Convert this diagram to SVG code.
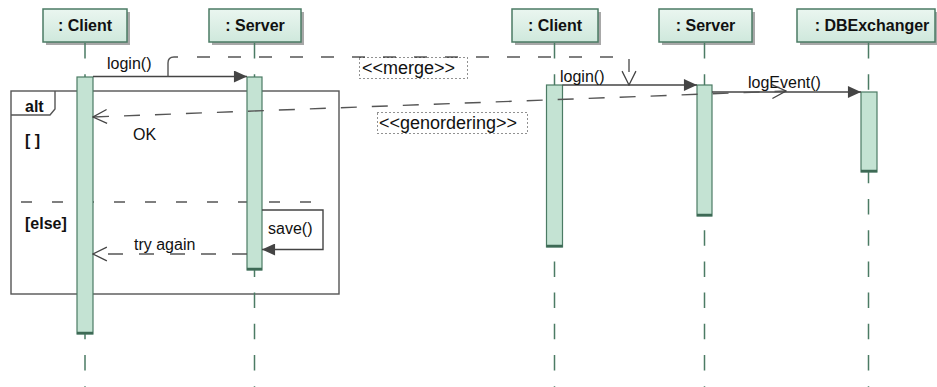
<svg xmlns="http://www.w3.org/2000/svg" width="937" height="387" viewBox="0 0 937 387">
  <defs>
    <linearGradient id="headFill" x1="0" y1="0" x2="0" y2="1">
      <stop offset="0" stop-color="#eaf6f0"/>
      <stop offset="1" stop-color="#cfe8dc"/>
    </linearGradient>
    <marker id="filled" markerUnits="userSpaceOnUse" markerWidth="14" markerHeight="12" viewBox="0 0 12 11" refX="12" refY="5.5" orient="auto">
      <path d="M0,0 L12,5.5 L0,11 z" fill="#444"/>
    </marker>
    <marker id="open" markerUnits="userSpaceOnUse" markerWidth="16" markerHeight="16" viewBox="-1 -1 15 15" refX="13" refY="6.5" orient="auto">
      <path d="M0,0 L13,6.5 L0,13" fill="none" stroke="#444" stroke-width="1.2"/>
    </marker>
    <marker id="openStart" markerUnits="userSpaceOnUse" markerWidth="16" markerHeight="16" viewBox="-1 -1 15 15" refX="0" refY="6.5" orient="auto">
      <path d="M13,0 L0,6.5 L13,13" fill="none" stroke="#444" stroke-width="1.2"/>
    </marker>
  </defs>
  <style>
    .head { fill: url(#headFill); stroke: #4b7b64; stroke-width: 1.5; }
    .shadow { fill: #a8a8a8; }
    .name { font-family: "Liberation Sans", Arial, sans-serif; font-size: 16px; font-weight: bold; fill: #111; text-anchor: middle; }
    .life { stroke: #4b7b64; stroke-width: 1.5; stroke-dasharray: 15.5 15.7; fill: none; }
    .act { fill: #c4e3d3; stroke: #4b7b64; stroke-width: 1.2; }
    .actEnd { stroke: #3d6a55; stroke-width: 2.5; }
    .lbl { font-family: "Liberation Sans", Arial, sans-serif; font-size: 16px; fill: #111; }
    .guard { font-family: "Liberation Sans", Arial, sans-serif; font-size: 16px; font-weight: bold; fill: #111; }
    .stereo { font-family: "Liberation Sans", Arial, sans-serif; font-size: 18px; fill: #111; }
    .call { stroke: #444; stroke-width: 1.4; fill: none; }
    .reply { stroke: #555; stroke-width: 1.4; fill: none; stroke-dasharray: 15 16; }
    .link { stroke: #555; stroke-width: 1.4; fill: none; }
    .frame { fill: none; stroke: #555; stroke-width: 1.4; }
    .note { fill: none; stroke: #222; stroke-width: 1; stroke-dasharray: 1 3; }
  </style>

  <rect width="937" height="387" fill="#fff"/>

  <!-- combined fragment (alt) -->
  <g id="alt-fragment">
    <rect class="frame" x="11" y="91" width="328" height="203"/>
    <path class="frame" d="M11,115 L50,115 L55,109 L55,91"/>
    <text class="guard" x="25" y="112">alt</text>
    <text class="guard" x="25" y="146">[ ]</text>
    <line class="frame" x1="21" y1="202" x2="318" y2="202" stroke-dasharray="11 20"/>
    <text class="guard" x="25" y="229">[else]</text>
  </g>

  <!-- first interaction: Client / Server -->
  <g id="client-a">
    <rect class="shadow" x="46" y="12" width="84" height="33"/>
    <rect class="head" x="43" y="9" width="84" height="33"/>
    <text class="name" x="85" y="30.5">: Client</text>
    <line class="life" x1="85" y1="43" x2="85" y2="387"/>
    <rect class="act" x="77" y="77" width="16" height="257"/>
    <line class="actEnd" x1="77" y1="333" x2="93" y2="333"/>
  </g>
  <g id="server-a">
    <rect class="shadow" x="212" y="12" width="92" height="33"/>
    <rect class="head" x="209" y="9" width="92" height="33"/>
    <text class="name" x="255" y="30.5">: Server</text>
    <line class="life" x1="254.5" y1="43" x2="254.5" y2="387"/>
    <rect class="act" x="247" y="77" width="15" height="193"/>
    <line class="actEnd" x1="247" y1="269" x2="262" y2="269"/>
  </g>

  <!-- second interaction: Client / Server / DBExchanger -->
  <g id="client-b">
    <rect class="shadow" x="515" y="12" width="86" height="33"/>
    <rect class="head" x="512" y="9" width="86" height="33"/>
    <text class="name" x="555" y="30.5">: Client</text>
    <line class="life" x1="554.5" y1="43" x2="554.5" y2="387"/>
    <rect class="act" x="546.5" y="85" width="16" height="162"/>
    <line class="actEnd" x1="546.5" y1="246" x2="562.5" y2="246"/>
  </g>
  <g id="server-b">
    <rect class="shadow" x="662" y="12" width="93" height="33"/>
    <rect class="head" x="659" y="9" width="93" height="33"/>
    <text class="name" x="705.5" y="30.5">: Server</text>
    <line class="life" x1="704.5" y1="43" x2="704.5" y2="387"/>
    <rect class="act" x="697" y="85" width="15" height="131"/>
    <line class="actEnd" x1="697" y1="215" x2="712" y2="215"/>
  </g>
  <g id="dbexchanger">
    <rect class="shadow" x="800" y="12" width="138" height="33"/>
    <rect class="head" x="797" y="9" width="138" height="33"/>
    <text class="name" x="872" y="30.5">: DBExchanger</text>
    <line class="life" x1="868.5" y1="43" x2="868.5" y2="387"/>
    <rect class="act" x="861" y="92" width="16" height="80"/>
    <line class="actEnd" x1="861" y1="171" x2="877" y2="171"/>
  </g>

  <!-- messages and links -->
  <g id="connectors">
    <line class="call" x1="93" y1="76.5" x2="247" y2="76.5" marker-end="url(#filled)"/>
    <text class="lbl" x="107" y="69">login()</text>

    <text class="lbl" x="133" y="139.5">OK</text>

    <path class="call" d="M262,210 L323,210 L323,249.5 L262,249.5" marker-end="url(#filled)"/>
    <text class="lbl" x="268" y="234">save()</text>

    <line class="reply" x1="247" y1="254" x2="93" y2="254" marker-end="url(#open)"/>
    <text class="lbl" x="134" y="250">try again</text>

    <line class="call" x1="562.5" y1="85" x2="697" y2="85" marker-end="url(#filled)"/>
    <text class="lbl" x="560" y="82">login()</text>

    <line class="call" x1="712" y1="92" x2="861" y2="92" marker-end="url(#filled)"/>
    <text class="lbl" x="748" y="88">logEvent()</text>

    <!-- merge link: from first login() to second login() -->
    <g id="merge-link">
      <path class="link" d="M168,76.5 L168,63 Q168,57 174,57 L178,57"/>
      <path class="link" stroke-dasharray="13 18" d="M197,57 L629,57 L629,85" marker-end="url(#open)"/>
      <rect class="note" x="359.5" y="57.5" width="108" height="21"/>
      <text class="stereo" x="362" y="74">&lt;&lt;merge&gt;&gt;</text>
    </g>

    <!-- ordering link: from OK reply to logEvent() -->
    <g id="order-link">
      <line class="link" stroke-dasharray="16 15" x1="93" y1="117" x2="786" y2="91" marker-start="url(#openStart)" marker-end="url(#open)"/>
      <rect class="note" x="377.5" y="112.5" width="150" height="21"/>
      <text class="stereo" x="379" y="129">&lt;&lt;genordering&gt;&gt;</text>
    </g>
  </g>
</svg>
